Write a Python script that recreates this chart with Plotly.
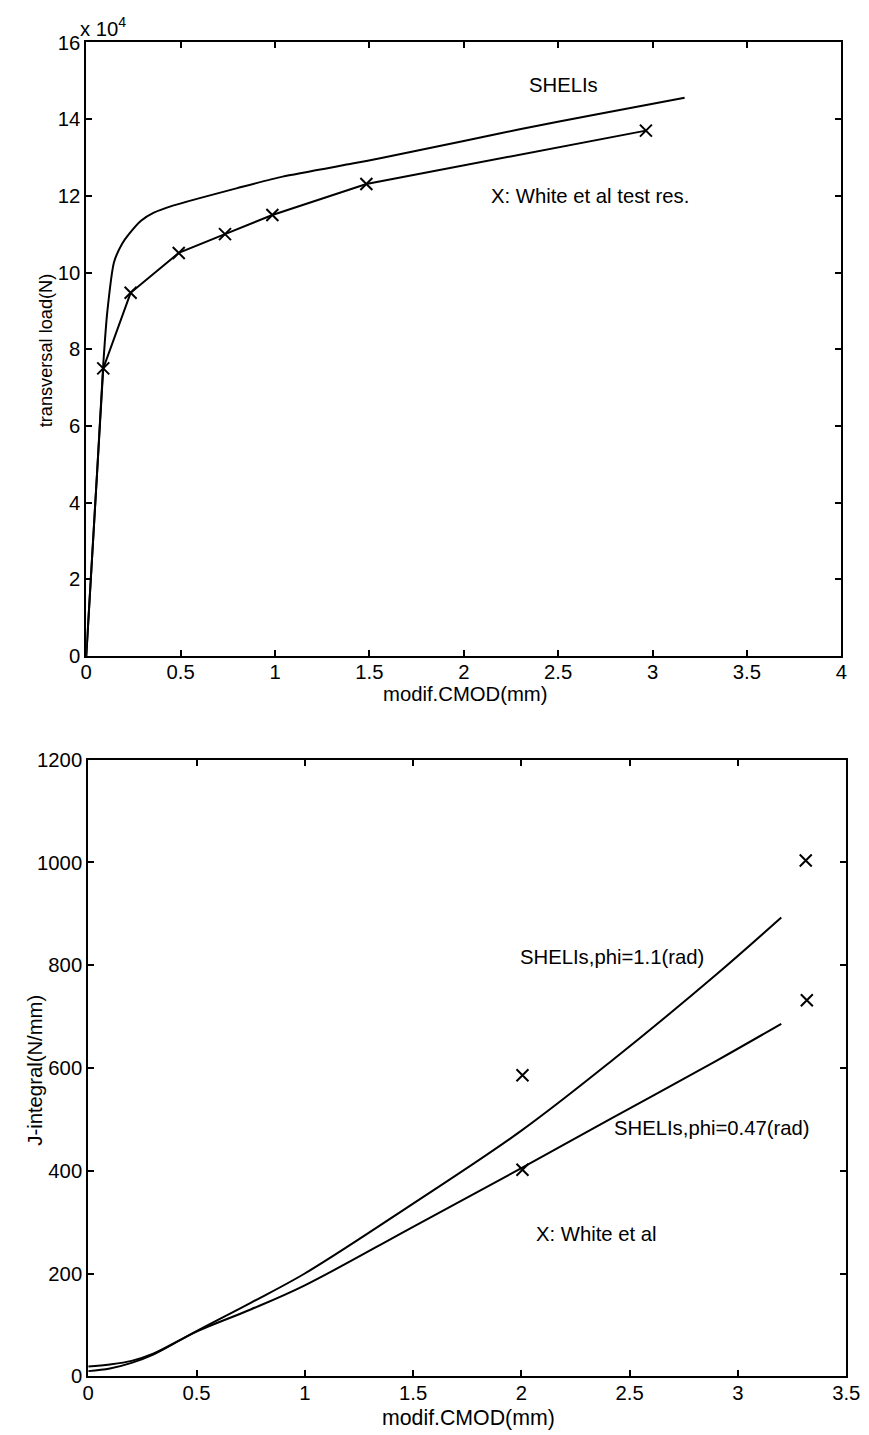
import plotly.graph_objects as go

# ---- Upper panel: transversal load vs modified CMOD ----
cmod_sim = [0.0, 0.06, 0.09, 0.112, 0.147, 0.19, 0.226, 0.29, 0.358, 0.463,
            0.586, 0.8, 1.04, 1.41, 1.57, 2.0, 2.29, 2.7, 3.17]
load_sim = [0, 50000, 76000, 90000, 102700, 107500, 110000, 113500, 115600, 117500,
            119200, 122000, 125000, 128400, 129900, 134300, 137300, 141200, 145600]

cmod_test = [0.0, 0.09, 0.235, 0.49, 0.735, 0.986, 1.484, 2.965]
load_test = [0, 75000, 94700, 105100, 110000, 115000, 123100, 137000]

load_ticks = [0, 20000, 40000, 60000, 80000, 100000, 120000, 140000, 160000]
load_ticktext = ["0", "2", "4", "6", "8", "10", "12", "14", "16"]

# ---- Lower panel: J-integral vs modified CMOD ----
cmod_j = [0.0, 0.1, 0.2, 0.3, 0.5, 0.75, 1.0, 1.5, 2.0, 2.42, 2.9, 3.2]
j_phi_110 = [10, 15, 26, 42, 88, 143, 200, 336, 478, 615, 782, 893]
j_phi_047 = [19, 23, 30, 44, 87, 130, 177, 291, 405, 503, 614, 686]

cmod_white = [2.005, 2.005, 3.313, 3.318]
j_white = [586, 402, 1004, 732]

W, H = 869, 1435
FONT = "Liberation Sans, Arial, sans-serif"
BLACK = "#000000"

# layout positions are given in page pixels; the captured page is drawn
# at a slightly reduced scale, so map page pixels back to figure pixels
SX, OX = 0.986, 0.0
SY, OY = 0.987, 8.5


def px_x(p):
    return ((p - OX) / SX) / W


def px_y(p):
    return 1 - ((p - OY) / SY) / H


def fs(size):
    return round(size / SY, 1)


FS = fs(20)

fig = go.Figure()

fig.add_trace(go.Scatter(x=cmod_sim, y=load_sim, mode="lines", line_shape="spline",
                         line=dict(color=BLACK, width=2, smoothing=0.6),
                         xaxis="x", yaxis="y"))
fig.add_trace(go.Scatter(x=cmod_test, y=load_test, mode="lines",
                         line=dict(color=BLACK, width=2), xaxis="x", yaxis="y"))
fig.add_trace(go.Scatter(x=cmod_test[1:], y=load_test[1:], mode="markers",
                         marker=dict(symbol="x-thin", size=12, color=BLACK,
                                     line=dict(color=BLACK, width=2)),
                         xaxis="x", yaxis="y"))

fig.add_trace(go.Scatter(x=cmod_j, y=j_phi_110, mode="lines", line_shape="spline",
                         line=dict(color=BLACK, width=2), xaxis="x2", yaxis="y2"))
fig.add_trace(go.Scatter(x=cmod_j, y=j_phi_047, mode="lines", line_shape="spline",
                         line=dict(color=BLACK, width=2), xaxis="x2", yaxis="y2"))
fig.add_trace(go.Scatter(x=cmod_white, y=j_white, mode="markers",
                         marker=dict(symbol="x-thin", size=12, color=BLACK,
                                     line=dict(color=BLACK, width=2)),
                         xaxis="x2", yaxis="y2"))

axis_common = dict(showline=True, linecolor=BLACK, linewidth=2, mirror="ticks",
                   ticks="inside", ticklen=6, tickwidth=1.5, tickcolor=BLACK,
                   showgrid=False, zeroline=False,
                   tickfont=dict(family=FONT, size=FS, color=BLACK))

fig.update_layout(
    width=W, height=H,
    margin=dict(l=0, r=0, t=0, b=0),
    paper_bgcolor="white", plot_bgcolor="white",
    showlegend=False,
    font=dict(family=FONT, size=FS, color=BLACK),
    xaxis=dict(domain=[px_x(81), px_x(843)], range=[0, 4], dtick=0.5,
               anchor="y", ticklabelstandoff=-3, **axis_common),
    yaxis=dict(domain=[px_y(655), px_y(40)], range=[0, 160000],
               tickvals=load_ticks, ticktext=load_ticktext,
               anchor="x", **axis_common),
    xaxis2=dict(domain=[px_x(83), px_x(848)], range=[0, 3.5], dtick=0.5,
                anchor="y2", ticklabelstandoff=-3, **axis_common),
    yaxis2=dict(domain=[px_y(1377), px_y(759)], range=[0, 1200], dtick=200,
                anchor="x2", **axis_common),
)

ann = []


def paper_text(text, x, y, angle=0, xanchor="center", size=20):
    ann.append(dict(text=text, x=px_x(x), y=px_y(y), xref="paper", yref="paper",
                    showarrow=False, textangle=angle, xanchor=xanchor,
                    yanchor="middle", font=dict(family=FONT, size=fs(size), color=BLACK)))


def data_text(text, x, y, xref, yref):
    ann.append(dict(text=text, x=x, y=y, xref=xref, yref=yref, showarrow=False,
                    xanchor="center", yanchor="middle",
                    font=dict(family=FONT, size=FS, color=BLACK)))


# axis titles
paper_text("modif.CMOD(mm)", 464, 693, size=20)
paper_text("transversal load(N)", 40, 349, angle=-90, size=18)
paper_text("x 10<sup>4</sup>", 73, 25, xanchor="left", size=20)
paper_text("modif.CMOD(mm)", 467, 1419, size=21)
paper_text("J-integral(N/mm)", 29, 1070, angle=-90, size=20)

# in-plot labels
data_text("SHELIs", 2.53, 148800, "x", "y")
data_text("X: White et al test res.", 2.67, 120000, "x", "y")
data_text("SHELIs,phi=1.1(rad)", 2.417, 816, "x2", "y2")
data_text("SHELIs,phi=0.47(rad)", 2.88, 483, "x2", "y2")
data_text("X: White et al", 2.345, 276, "x2", "y2")

fig.update_layout(annotations=ann)

fig.write_html("out.html")
